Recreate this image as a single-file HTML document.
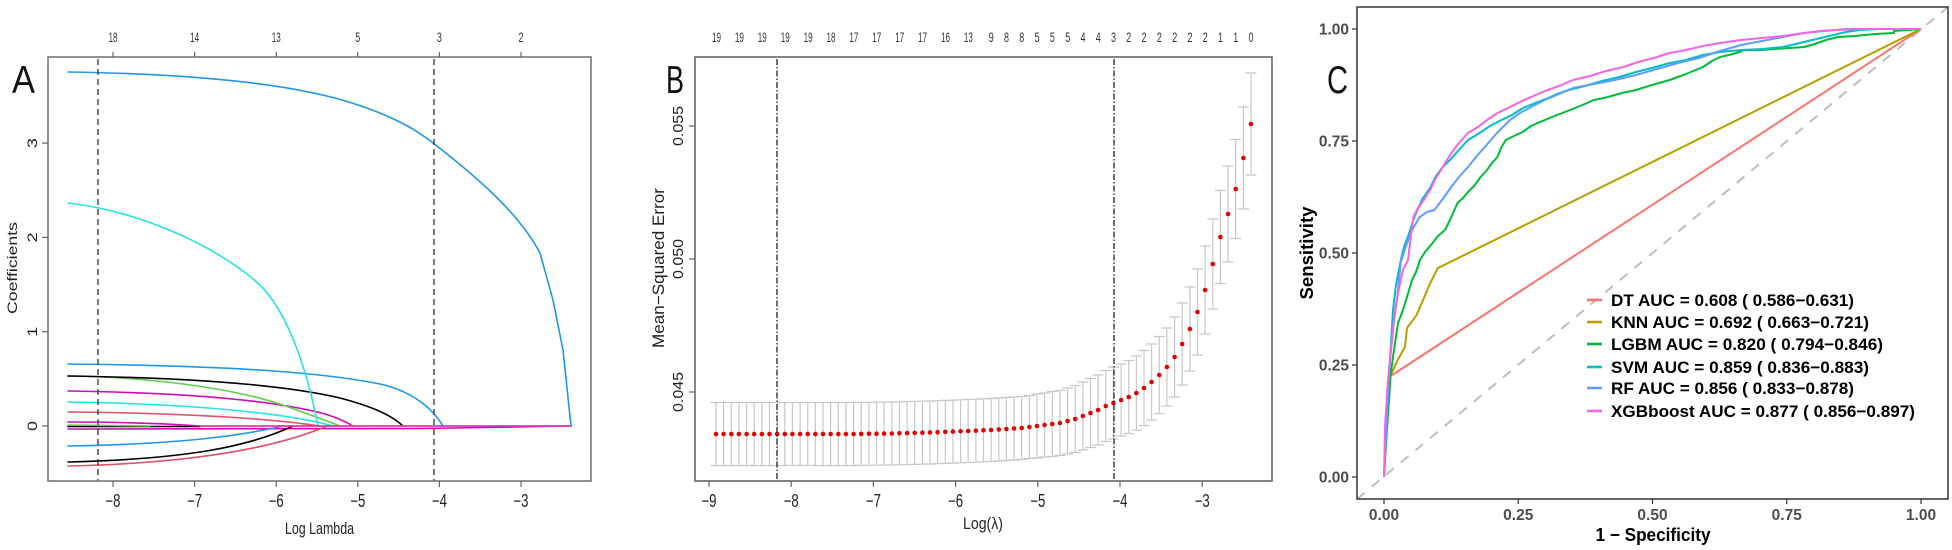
<!DOCTYPE html>
<html>
<head>
<meta charset="utf-8">
<style>
html,body{margin:0;padding:0;background:#fff;}
svg{display:block;}
text{font-family:"Liberation Sans",Arial,sans-serif;}
</style>
</head>
<body>
<svg width="1952" height="550" viewBox="0 0 1952 550" xmlns="http://www.w3.org/2000/svg">
<rect width="1952" height="550" fill="#fff"/>

<!-- ================= PANEL A ================= -->
<g fill="none" stroke-width="1.6" stroke-linecap="round">
  <!-- near-zero lines -->
  <path d="M68,426.5 L200,426.5" stroke="#000"/>
  <path d="M68,425 L150,426" stroke="#61D04F"/>
  <path d="M68,422 C120,422 170,424 200,426" stroke="#CD0BBC"/>
  <path d="M68,429 L420,428.5 L571,426" stroke="#CD0BBC"/>
  <!-- negative curves -->
  <path d="M68,446 C180,444 240,436 283,426" stroke="#2297E6"/>
  <path d="M68,462 C190,459 250,446 293,426" stroke="#000"/>
  <path d="M68,466 C200,463 280,446 327,426" stroke="#DF536B"/>
  <!-- positive small curves -->
  <path d="M68,412 C200,413 280,420 320,426" stroke="#DF536B"/>
  <path d="M68,402 C200,404 290,414 333,426" stroke="#28E2E5"/>
  <path d="M68,391 C200,393 280,402 325,414 C338,418 348,423 353,426" stroke="#CD0BBC"/>
  <path d="M68,376 C150,377 230,388 280,404 C305,413 325,420 340,426" stroke="#61D04F"/>
  <path d="M68,376 C200,378 290,386 340,398 C370,406 390,414 403,426" stroke="#000"/>
  <path d="M68,364 C250,366 330,374 380,384 C410,391 430,405 443,426" stroke="#2297E6"/>
  <!-- big curves -->
  <path d="M68,203 C130,210 210,240 260,285 C285,310 305,360 318,426" stroke="#28E2E5"/>
  <path d="M68,72 C200,74 300,85 358,105 C400,119 420,132 442,150 C480,180 520,215 540,253 L553,300 L563,350 L571,426" stroke="#2297E6"/>
  <!-- zero line on top -->
  <path d="M200,426 L571,426" stroke="#D63AB8" stroke-width="1.8"/>
</g>
<!-- A dashed lines -->
<g stroke="#333" stroke-width="1.3" stroke-dasharray="6,4">
  <line x1="98" y1="59" x2="98" y2="481"/>
  <line x1="434" y1="59" x2="434" y2="481"/>
</g>
<!-- A box -->
<rect x="48" y="57" width="543" height="424" fill="none" stroke="#777" stroke-width="1.6"/>
<!-- A ticks -->
<g stroke="#666" stroke-width="1.2">
  <line x1="113" y1="481" x2="113" y2="487"/><line x1="194.6" y1="481" x2="194.6" y2="487"/>
  <line x1="276.2" y1="481" x2="276.2" y2="487"/><line x1="357.8" y1="481" x2="357.8" y2="487"/>
  <line x1="439.4" y1="481" x2="439.4" y2="487"/><line x1="521" y1="481" x2="521" y2="487"/>
  <line x1="113" y1="57" x2="113" y2="52"/><line x1="194.6" y1="57" x2="194.6" y2="52"/>
  <line x1="276.2" y1="57" x2="276.2" y2="52"/><line x1="357.8" y1="57" x2="357.8" y2="52"/>
  <line x1="439.4" y1="57" x2="439.4" y2="52"/><line x1="521" y1="57" x2="521" y2="52"/>
  <line x1="48" y1="426" x2="42" y2="426"/><line x1="48" y1="331.7" x2="42" y2="331.7"/>
  <line x1="48" y1="237.4" x2="42" y2="237.4"/><line x1="48" y1="143.1" x2="42" y2="143.1"/>
</g>
<g fill="#222" font-size="18" text-anchor="middle">
  <text x="113" y="507" textLength="15" lengthAdjust="spacingAndGlyphs">−8</text>
  <text x="194.6" y="507" textLength="15" lengthAdjust="spacingAndGlyphs">−7</text>
  <text x="276.2" y="507" textLength="15" lengthAdjust="spacingAndGlyphs">−6</text>
  <text x="357.8" y="507" textLength="15" lengthAdjust="spacingAndGlyphs">−5</text>
  <text x="439.4" y="507" textLength="15" lengthAdjust="spacingAndGlyphs">−4</text>
  <text x="521" y="507" textLength="15" lengthAdjust="spacingAndGlyphs">−3</text>
</g>
<g fill="#333" font-size="14" text-anchor="middle">
  <text x="113" y="42" textLength="9" lengthAdjust="spacingAndGlyphs">18</text>
  <text x="194.6" y="42" textLength="9" lengthAdjust="spacingAndGlyphs">14</text>
  <text x="276.2" y="42" textLength="9" lengthAdjust="spacingAndGlyphs">13</text>
  <text x="357.8" y="42" textLength="5" lengthAdjust="spacingAndGlyphs">5</text>
  <text x="439.4" y="42" textLength="5" lengthAdjust="spacingAndGlyphs">3</text>
  <text x="521" y="42" textLength="5" lengthAdjust="spacingAndGlyphs">2</text>
</g>
<g fill="#222" font-size="14" text-anchor="middle">
  <text transform="translate(37,426) rotate(-90)" textLength="10" lengthAdjust="spacingAndGlyphs">0</text>
  <text transform="translate(37,331.7) rotate(-90)" textLength="10" lengthAdjust="spacingAndGlyphs">1</text>
  <text transform="translate(37,237.4) rotate(-90)" textLength="10" lengthAdjust="spacingAndGlyphs">2</text>
  <text transform="translate(37,143.1) rotate(-90)" textLength="10" lengthAdjust="spacingAndGlyphs">3</text>
</g>
<text x="319.5" y="534" font-size="17" text-anchor="middle" fill="#222" textLength="69" lengthAdjust="spacingAndGlyphs">Log Lambda</text>
<text transform="translate(17,268) rotate(-90)" font-size="14" text-anchor="middle" fill="#222" textLength="92" lengthAdjust="spacingAndGlyphs">Coefficients</text>
<text x="12" y="93" font-size="39" fill="#111" textLength="23" lengthAdjust="spacingAndGlyphs">A</text>

<!-- ================= PANEL B ================= -->
<!-- error bars -->
<g fill="none" stroke="#c8c8c8" stroke-width="1.2">
<path d="M1245.5,73H1256.5M1251,73V175M1245.5,175H1256.5
M1237.9,107H1248.9M1243.4,107V209M1237.9,209H1248.9
M1230.2,139.5H1241.2M1235.7,139.5V238.5M1230.2,238.5H1241.2
M1222.6,166H1233.6M1228.1,166V262M1222.6,262H1233.6
M1214.9,190.5H1225.9M1220.4,190.5V283.5M1214.9,283.5H1225.9
M1207.3,219H1218.3M1212.8,219V309M1207.3,309H1218.3
M1199.6,246H1210.6M1205.1,246V334M1199.6,334H1210.6
M1192,269H1203M1197.5,269V355M1192,355H1203
M1184.4,287H1195.4M1189.9,287V371M1184.4,371H1195.4
M1176.7,303H1187.7M1182.2,303V385M1176.7,385H1187.7
M1169.1,317H1180.1M1174.6,317V397M1169.1,397H1180.1
M1161.4,328H1172.4M1166.9,328V406M1161.4,406H1172.4
M1153.8,336.5H1164.8M1159.3,336.5V413.5M1153.8,413.5H1164.8
M1146.1,344H1157.1M1151.6,344V420M1146.1,420H1157.1
M1138.5,350.5H1149.5M1144,350.5V425.5M1138.5,425.5H1149.5
M1130.9,356H1141.9M1136.4,356V430M1130.9,430H1141.9
M1123.2,360.5H1134.2M1128.7,360.5V433.5M1123.2,433.5H1134.2
M1115.6,364H1126.6M1121.1,364V436M1115.6,436H1126.6
M1107.9,367H1118.9M1113.4,367V439M1107.9,439H1118.9
M1100.3,370.5H1111.3M1105.8,370.5V441.5M1100.3,441.5H1111.3
M1092.6,375H1103.6M1098.1,375V445M1092.6,445H1103.6
M1085,378.5H1096M1090.5,378.5V447.5M1085,447.5H1096
M1077.4,382H1088.4M1082.9,382V450M1077.4,450H1088.4
M1069.7,385.5H1080.7M1075.2,385.5V452.5M1069.7,452.5H1080.7
M1062.1,388H1073.1M1067.6,388V454M1062.1,454H1073.1
M1054.4,390.5H1065.4M1059.9,390.5V455.5M1054.4,455.5H1065.4
M1046.8,391.5H1057.8M1052.3,391.5V456.5M1046.8,456.5H1057.8
M1039.1,393H1050.1M1044.6,393V457M1039.1,457H1050.1
M1031.5,394H1042.5M1037,394V458M1031.5,458H1042.5
M1023.9,395.5H1034.9M1029.4,395.5V458.5M1023.9,458.5H1034.9
M1016.2,396.5H1027.2M1021.7,396.5V459.5M1016.2,459.5H1027.2
M1008.6,397H1019.6M1014.1,397V460M1008.6,460H1019.6
M1000.9,397.5H1011.9M1006.4,397.5V460.5M1000.9,460.5H1011.9
M993.3,398H1004.3M998.8,398V461M993.3,461H1004.3
M985.6,398.5H996.6M991.1,398.5V461.5M985.6,461.5H996.6
M978,398.8H989M983.5,398.8V461.8M978,461.8H989
M970.4,399.2H981.4M975.9,399.2V462.2M970.4,462.2H981.4
M962.7,399.5H973.7M968.2,399.5V462.5M962.7,462.5H973.7
M955.1,399.8H966.1M960.6,399.8V462.8M955.1,462.8H966.1
M947.4,400.1H958.4M952.9,400.1V463.1M947.4,463.1H958.4
M939.8,400.4H950.8M945.3,400.4V463.4M939.8,463.4H950.8
M932.1,400.7H943.1M937.6,400.7V463.7M932.1,463.7H943.1
M924.5,401H935.5M930,401V464M924.5,464H935.5
M916.9,401.2H927.9M922.4,401.2V464.2M916.9,464.2H927.9
M909.2,401.4H920.2M914.7,401.4V464.4M909.2,464.4H920.2
M901.6,401.6H912.6M907.1,401.6V464.6M901.6,464.6H912.6
M893.9,401.8H904.9M899.4,401.8V464.8M893.9,464.8H904.9
M886.3,402H897.3M891.8,402V465M886.3,465H897.3
M878.6,402.1H889.6M884.1,402.1V465.1M878.6,465.1H889.6
M871,402.2H882M876.5,402.2V465.2M871,465.2H882
M863.4,402.3H874.4M868.9,402.3V465.3M863.4,465.3H874.4
M855.7,402.4H866.7M861.2,402.4V465.4M855.7,465.4H866.7
M710.5,402.5H859.1M710.5,465.5H859.1
M853.6,402.5V465.5M845.9,402.5V465.5M838.3,402.5V465.5M830.6,402.5V465.5M823,402.5V465.5
M815.4,402.5V465.5M807.7,402.5V465.5M800.1,402.5V465.5M792.4,402.5V465.5M784.8,402.5V465.5
M777.1,402.5V465.5M769.5,402.5V465.5M761.9,402.5V465.5M754.2,402.5V465.5M746.6,402.5V465.5
M738.9,402.5V465.5M731.3,402.5V465.5M723.6,402.5V465.5M716,402.5V465.5"/>
</g>
<!-- dots -->
<g fill="#e00000">
<circle cx="1251" cy="124" r="2.3"/><circle cx="1243.4" cy="158" r="2.3"/><circle cx="1235.7" cy="189" r="2.3"/>
<circle cx="1228.1" cy="214" r="2.3"/><circle cx="1220.4" cy="237" r="2.3"/><circle cx="1212.8" cy="264" r="2.3"/>
<circle cx="1205.1" cy="290" r="2.3"/><circle cx="1197.5" cy="312" r="2.3"/><circle cx="1189.9" cy="329" r="2.3"/>
<circle cx="1182.2" cy="344" r="2.3"/><circle cx="1174.6" cy="357" r="2.3"/><circle cx="1166.9" cy="367" r="2.3"/>
<circle cx="1159.3" cy="375" r="2.3"/><circle cx="1151.6" cy="382" r="2.3"/><circle cx="1144" cy="388" r="2.3"/>
<circle cx="1136.4" cy="393" r="2.3"/><circle cx="1128.7" cy="397" r="2.3"/><circle cx="1121.1" cy="400" r="2.3"/>
<circle cx="1113.4" cy="403" r="2.3"/><circle cx="1105.8" cy="406" r="2.3"/><circle cx="1098.1" cy="410" r="2.3"/>
<circle cx="1090.5" cy="413" r="2.3"/><circle cx="1082.9" cy="416" r="2.3"/><circle cx="1075.2" cy="419" r="2.3"/>
<circle cx="1067.6" cy="421" r="2.3"/><circle cx="1059.9" cy="423" r="2.3"/><circle cx="1052.3" cy="424" r="2.3"/>
<circle cx="1044.6" cy="425" r="2.3"/><circle cx="1037" cy="426" r="2.3"/><circle cx="1029.4" cy="427" r="2.3"/>
<circle cx="1021.7" cy="428" r="2.3"/><circle cx="1014.1" cy="428.5" r="2.3"/><circle cx="1006.4" cy="429" r="2.3"/>
<circle cx="998.8" cy="429.5" r="2.3"/><circle cx="991.1" cy="430" r="2.3"/><circle cx="983.5" cy="430.3" r="2.3"/>
<circle cx="975.9" cy="430.7" r="2.3"/><circle cx="968.2" cy="431" r="2.3"/><circle cx="960.6" cy="431.3" r="2.3"/>
<circle cx="952.9" cy="431.6" r="2.3"/><circle cx="945.3" cy="431.9" r="2.3"/><circle cx="937.6" cy="432.2" r="2.3"/>
<circle cx="930" cy="432.5" r="2.3"/><circle cx="922.4" cy="432.7" r="2.3"/><circle cx="914.7" cy="432.9" r="2.3"/>
<circle cx="907.1" cy="433.1" r="2.3"/><circle cx="899.4" cy="433.3" r="2.3"/><circle cx="891.8" cy="433.5" r="2.3"/>
<circle cx="884.1" cy="433.6" r="2.3"/><circle cx="876.5" cy="433.7" r="2.3"/><circle cx="868.9" cy="433.8" r="2.3"/>
<circle cx="861.2" cy="433.9" r="2.3"/><circle cx="853.6" cy="434" r="2.3"/><circle cx="845.9" cy="434" r="2.3"/>
<circle cx="838.3" cy="434" r="2.3"/><circle cx="830.6" cy="434" r="2.3"/><circle cx="823" cy="434" r="2.3"/>
<circle cx="815.4" cy="434" r="2.3"/><circle cx="807.7" cy="434" r="2.3"/><circle cx="800.1" cy="434" r="2.3"/>
<circle cx="792.4" cy="434" r="2.3"/><circle cx="784.8" cy="434" r="2.3"/><circle cx="777.1" cy="434" r="2.3"/>
<circle cx="769.5" cy="434" r="2.3"/><circle cx="761.9" cy="434" r="2.3"/><circle cx="754.2" cy="434" r="2.3"/>
<circle cx="746.6" cy="434" r="2.3"/><circle cx="738.9" cy="434" r="2.3"/><circle cx="731.3" cy="434" r="2.3"/>
<circle cx="723.6" cy="434" r="2.3"/><circle cx="716" cy="434" r="2.3"/>
</g>
<!-- B dashed lines -->
<g stroke="#222" stroke-width="1.3" stroke-dasharray="6,2,1.5,2">
  <line x1="777" y1="59" x2="777" y2="481"/>
  <line x1="1114" y1="59" x2="1114" y2="481"/>
</g>
<!-- B box -->
<rect x="695" y="57" width="577" height="424" fill="none" stroke="#666" stroke-width="1.6"/>
<g stroke="#666" stroke-width="1.2">
  <line x1="709" y1="481" x2="709" y2="487"/><line x1="791.2" y1="481" x2="791.2" y2="487"/>
  <line x1="873.4" y1="481" x2="873.4" y2="487"/><line x1="955.6" y1="481" x2="955.6" y2="487"/>
  <line x1="1037.8" y1="481" x2="1037.8" y2="487"/><line x1="1120" y1="481" x2="1120" y2="487"/>
  <line x1="1202.2" y1="481" x2="1202.2" y2="487"/>
  <line x1="695" y1="392" x2="689" y2="392"/><line x1="695" y1="259" x2="689" y2="259"/>
  <line x1="695" y1="126" x2="689" y2="126"/>
</g>
<g fill="#222" font-size="18" text-anchor="middle">
  <text x="709" y="507" textLength="15" lengthAdjust="spacingAndGlyphs">−9</text>
  <text x="791.2" y="507" textLength="15" lengthAdjust="spacingAndGlyphs">−8</text>
  <text x="873.4" y="507" textLength="15" lengthAdjust="spacingAndGlyphs">−7</text>
  <text x="955.6" y="507" textLength="15" lengthAdjust="spacingAndGlyphs">−6</text>
  <text x="1037.8" y="507" textLength="15" lengthAdjust="spacingAndGlyphs">−5</text>
  <text x="1120" y="507" textLength="15" lengthAdjust="spacingAndGlyphs">−4</text>
  <text x="1202.2" y="507" textLength="15" lengthAdjust="spacingAndGlyphs">−3</text>
</g>
<g fill="#222" font-size="15" text-anchor="middle">
  <text transform="translate(683,392) rotate(-90)" textLength="40" lengthAdjust="spacingAndGlyphs">0.045</text>
  <text transform="translate(683,259) rotate(-90)" textLength="40" lengthAdjust="spacingAndGlyphs">0.050</text>
  <text transform="translate(683,126) rotate(-90)" textLength="40" lengthAdjust="spacingAndGlyphs">0.055</text>
</g>
<g fill="#333" font-size="14" text-anchor="middle">
  <text x="716.5" y="42" textLength="9" lengthAdjust="spacingAndGlyphs">19</text>
  <text x="739.4" y="42" textLength="9" lengthAdjust="spacingAndGlyphs">19</text>
  <text x="762.3" y="42" textLength="9" lengthAdjust="spacingAndGlyphs">19</text>
  <text x="785.2" y="42" textLength="9" lengthAdjust="spacingAndGlyphs">19</text>
  <text x="808.1" y="42" textLength="9" lengthAdjust="spacingAndGlyphs">19</text>
  <text x="831" y="42" textLength="9" lengthAdjust="spacingAndGlyphs">18</text>
  <text x="853.9" y="42" textLength="9" lengthAdjust="spacingAndGlyphs">17</text>
  <text x="876.8" y="42" textLength="9" lengthAdjust="spacingAndGlyphs">17</text>
  <text x="899.7" y="42" textLength="9" lengthAdjust="spacingAndGlyphs">17</text>
  <text x="922.6" y="42" textLength="9" lengthAdjust="spacingAndGlyphs">17</text>
  <text x="945.5" y="42" textLength="9" lengthAdjust="spacingAndGlyphs">16</text>
  <text x="968.4" y="42" textLength="9" lengthAdjust="spacingAndGlyphs">13</text>
  <text x="991.3" y="42" textLength="5" lengthAdjust="spacingAndGlyphs">9</text>
  <text x="1006.5" y="42" textLength="5" lengthAdjust="spacingAndGlyphs">8</text>
  <text x="1021.8" y="42" textLength="5" lengthAdjust="spacingAndGlyphs">8</text>
  <text x="1037.1" y="42" textLength="5" lengthAdjust="spacingAndGlyphs">5</text>
  <text x="1052.4" y="42" textLength="5" lengthAdjust="spacingAndGlyphs">5</text>
  <text x="1067.7" y="42" textLength="5" lengthAdjust="spacingAndGlyphs">5</text>
  <text x="1083" y="42" textLength="5" lengthAdjust="spacingAndGlyphs">4</text>
  <text x="1098.2" y="42" textLength="5" lengthAdjust="spacingAndGlyphs">4</text>
  <text x="1113.5" y="42" textLength="5" lengthAdjust="spacingAndGlyphs">3</text>
  <text x="1128.8" y="42" textLength="5" lengthAdjust="spacingAndGlyphs">2</text>
  <text x="1144.1" y="42" textLength="5" lengthAdjust="spacingAndGlyphs">2</text>
  <text x="1159.4" y="42" textLength="5" lengthAdjust="spacingAndGlyphs">2</text>
  <text x="1174.7" y="42" textLength="5" lengthAdjust="spacingAndGlyphs">2</text>
  <text x="1190" y="42" textLength="5" lengthAdjust="spacingAndGlyphs">2</text>
  <text x="1205.2" y="42" textLength="5" lengthAdjust="spacingAndGlyphs">2</text>
  <text x="1220.5" y="42" textLength="5" lengthAdjust="spacingAndGlyphs">1</text>
  <text x="1235.8" y="42" textLength="5" lengthAdjust="spacingAndGlyphs">1</text>
  <text x="1251" y="42" textLength="5" lengthAdjust="spacingAndGlyphs">0</text>
</g>
<text x="983" y="529" font-size="17" text-anchor="middle" fill="#222" textLength="40" lengthAdjust="spacingAndGlyphs">Log(λ)</text>
<text transform="translate(664,268) rotate(-90)" font-size="16.5" text-anchor="middle" fill="#222" textLength="160" lengthAdjust="spacingAndGlyphs">Mean−Squared Error</text>
<text x="666" y="93" font-size="39" fill="#111" textLength="18" lengthAdjust="spacingAndGlyphs">B</text>

<!-- ================= PANEL C ================= -->
<!-- diagonal -->
<line x1="1357" y1="499" x2="1948" y2="7" stroke="#bdbdbd" stroke-width="2" stroke-dasharray="10,9"/>
<g fill="none" stroke-width="2" stroke-linejoin="round">
  <polyline stroke="#F8766D" points="1384,477 1390.4,376.2 1921,29"/>
  <polyline stroke="#B79F00" points="1384,477 1386.7,432 1390.4,376.2 1397.4,360.5 1404.9,347.1 1407.1,327.8 1416.2,315.7 1422.1,302.3 1429.6,284.4 1437.7,268.2 1921,29"/>
  <polyline stroke="#00BA38" points="1384,477 1386,440 1389,400 1390.4,376 1394,350 1398,323 1403,310 1407,297 1412,280 1416,272 1420,260 1425,252 1431,245 1438,236 1445,230 1450,220 1457.5,203 1463,198 1468,192 1474,186 1480.6,177 1487,170 1492,163 1497.4,157 1501,148 1505.8,140 1514,136 1522.6,132 1531,126 1540,122 1552,117 1565,112 1580,106 1594,100 1608,97 1622,93 1636,90 1652,85 1669.6,80 1686,74 1703,67 1712,61 1720,57 1733,54 1745,50 1760,50 1775,49 1790,48 1804,47 1815,44 1826,40 1837.6,37 1855,36 1875,34 1894,33 1894,31 1921,29"/>
  <polyline stroke="#00BFC4" points="1384,477 1386.7,427 1390,360 1393,310 1396,285 1400.8,260 1404,247 1409.2,233 1414,218 1421.8,200 1430,188 1436,176 1442.8,167 1450,160 1457,152 1468,140 1478,134 1490,126 1501.6,120 1512,115 1523,108 1535.2,103 1546,99 1557,94 1568.8,90 1585,86 1602,81 1619.2,77 1636,72 1652,68 1669.6,63 1686,60 1703,55 1720,52 1741,50 1762,49 1783,47 1800,43 1812,40 1825,37 1846,32 1860,30 1879.6,29 1921,29"/>
  <polyline stroke="#619CFF" points="1384,477 1386,430 1389,370 1394,320 1397,300 1400.8,262 1406,246 1412,230 1419.7,217 1427,212 1434.4,210 1442,200 1451.2,187 1459,177 1468,167 1476,157 1484.8,147 1497,133 1510,120 1520,113 1531,107 1545,100 1559,94 1573,88 1594,84 1615,80 1636,75 1657,69 1678,63 1699,58 1720,51 1741,45 1762,41 1783,37 1804,33 1825,31 1846,29 1921,29"/>
  <polyline stroke="#F564E3" points="1384,477 1385,427 1388,380 1390,360 1395,310 1399,288 1403,270 1408,260 1411,235 1413.4,217 1418,208 1423.9,200 1430,190 1436,178 1442.8,167 1450,155 1458,144 1468,133 1478,127 1487,120 1497.4,113 1508,108 1520,102 1531,97 1545,91 1559,86 1573,80 1590,76 1606,71 1623.4,67 1638,62 1654,58 1669.6,53 1686,50 1703,46 1720,43 1741,40 1762,38 1783,36 1804,33 1820,31 1837.6,30 1860,29 1921,29"/>
</g>
<!-- C box -->
<rect x="1357" y="7" width="591" height="492" fill="none" stroke="#333" stroke-width="1.5"/>
<g stroke="#333" stroke-width="1.2">
  <line x1="1352" y1="477" x2="1357" y2="477"/><line x1="1352" y1="365" x2="1357" y2="365"/>
  <line x1="1352" y1="253" x2="1357" y2="253"/><line x1="1352" y1="141" x2="1357" y2="141"/>
  <line x1="1352" y1="29" x2="1357" y2="29"/>
  <line x1="1384" y1="499" x2="1384" y2="504"/><line x1="1518.25" y1="499" x2="1518.25" y2="504"/>
  <line x1="1652.5" y1="499" x2="1652.5" y2="504"/><line x1="1786.75" y1="499" x2="1786.75" y2="504"/>
  <line x1="1921" y1="499" x2="1921" y2="504"/>
</g>
<g fill="#4d4d4d" font-size="15.5" font-weight="bold" text-anchor="end">
  <text x="1349" y="482.5">0.00</text>
  <text x="1349" y="370.5">0.25</text>
  <text x="1349" y="258.5">0.50</text>
  <text x="1349" y="146.5">0.75</text>
  <text x="1349" y="34.5">1.00</text>
</g>
<g fill="#4d4d4d" font-size="15.5" font-weight="bold" text-anchor="middle">
  <text x="1384" y="520">0.00</text>
  <text x="1518.25" y="520">0.25</text>
  <text x="1652.5" y="520">0.50</text>
  <text x="1786.75" y="520">0.75</text>
  <text x="1921" y="520">1.00</text>
</g>
<text x="1653" y="541" font-size="18" font-weight="bold" text-anchor="middle" fill="#000" textLength="115" lengthAdjust="spacingAndGlyphs">1 − Specificity</text>
<text transform="translate(1313,253) rotate(-90)" font-size="18" font-weight="bold" text-anchor="middle" fill="#000" textLength="93" lengthAdjust="spacingAndGlyphs">Sensitivity</text>
<text x="1327" y="93" font-size="39" fill="#111" textLength="21" lengthAdjust="spacingAndGlyphs">C</text>
<!-- legend -->
<g stroke-width="2.6">
  <line x1="1587" y1="300" x2="1602" y2="300" stroke="#F8766D"/>
  <line x1="1587" y1="322" x2="1602" y2="322" stroke="#B79F00"/>
  <line x1="1587" y1="344" x2="1602" y2="344" stroke="#00BA38"/>
  <line x1="1587" y1="367" x2="1602" y2="367" stroke="#00BFC4"/>
  <line x1="1587" y1="388" x2="1602" y2="388" stroke="#619CFF"/>
  <line x1="1587" y1="411" x2="1602" y2="411" stroke="#F564E3"/>
</g>
<g fill="#000" font-size="17" font-weight="bold">
  <text x="1611" y="306" textLength="243" lengthAdjust="spacingAndGlyphs">DT AUC = 0.608 ( 0.586−0.631)</text>
  <text x="1611" y="328" textLength="258" lengthAdjust="spacingAndGlyphs">KNN AUC = 0.692 ( 0.663−0.721)</text>
  <text x="1611" y="350" textLength="272" lengthAdjust="spacingAndGlyphs">LGBM AUC = 0.820 ( 0.794−0.846)</text>
  <text x="1611" y="373" textLength="258" lengthAdjust="spacingAndGlyphs">SVM AUC = 0.859 ( 0.836−0.883)</text>
  <text x="1611" y="394" textLength="243" lengthAdjust="spacingAndGlyphs">RF AUC = 0.856 ( 0.833−0.878)</text>
  <text x="1611" y="417" textLength="304" lengthAdjust="spacingAndGlyphs">XGBboost AUC = 0.877 ( 0.856−0.897)</text>
</g>
</svg>
</body>
</html>
